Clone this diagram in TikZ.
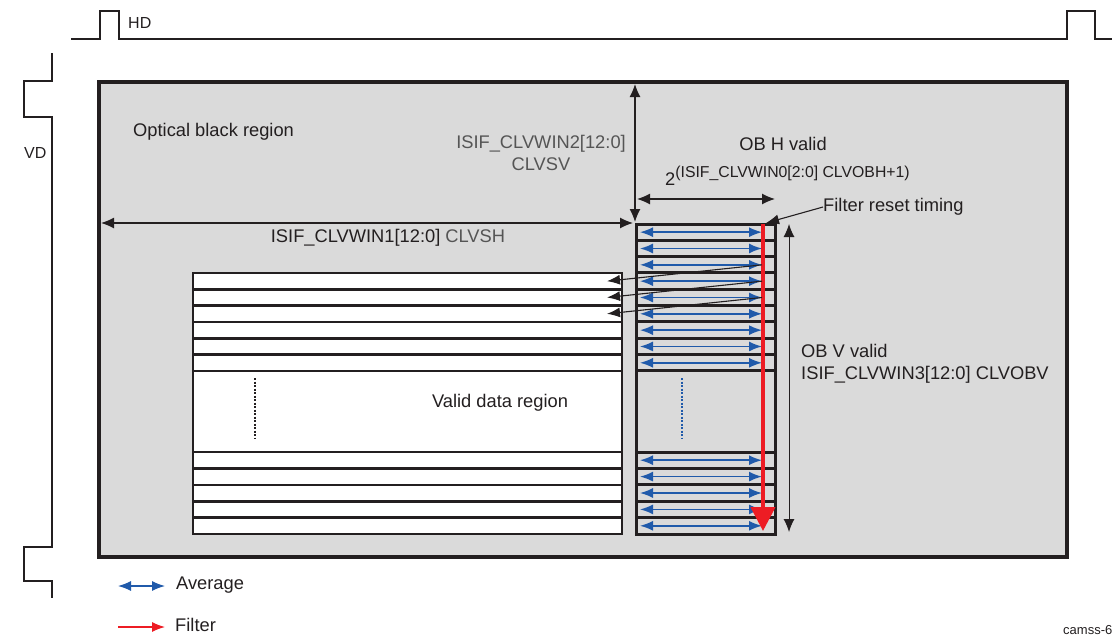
\documentclass[tikz,border=0pt]{standalone}
\usepackage{fontspec}
\setmainfont{Liberation Sans}
\usetikzlibrary{arrows.meta,positioning,calc}
\definecolor{obgray}{RGB}{218,218,218}
\definecolor{inkc}{RGB}{35,31,32}
\definecolor{avgblue}{RGB}{32,90,170}
\definecolor{filtred}{RGB}{237,28,36}
\definecolor{labgray}{RGB}{85,85,85}
\newcommand{\rowh}{16.33}
\newcommand{\rowtop}{224}

\begin{document}
\begin{tikzpicture}[x=1pt,y=-1pt,
    every node/.style={font=\fontsize{18.3}{22}\selectfont,inner sep=0pt,text=inkc},
    dimarrow/.style={inkc,line width=1.2pt,{Latex[length=13pt,width=11pt]}-{Latex[length=13pt,width=11pt]}},
    avgarrow/.style={avgblue,line width=1.5pt,{Latex[length=13pt,width=10pt]}-{Latex[length=13pt,width=10pt]}},
    hookarrow/.style={inkc,line width=1.1pt,-{Latex[length=13pt,width=10pt]}},
    rowline/.style={inkc,line width=3pt},
    validline/.style={inkc,line width=2.6pt}]
  \useasboundingbox (0,0) rectangle (1112,635);

  % sync pulses
  \draw[inkc,line width=2pt] (71,39)--(100,39)--(100,11)--(119,11)--(119,39)--(1067,39)
    --(1067,11)--(1095,11)--(1095,39)--(1112,39);
  \draw[inkc,line width=2pt] (52,53)--(52,81)--(24,81)--(24,117)--(52,117)--(52,547)
    --(24,547)--(24,581)--(52,581)--(52,598);
  \node[anchor=west,font=\fontsize{16}{19}\selectfont] (hd) at (128,23) {HD};
  \node[anchor=west,font=\fontsize{16}{19}\selectfont] (vd) at (24,153) {VD};

  % optical black region
  \coordinate (obtl) at (99,82);
  \coordinate (obbr) at (1067,557);
  \fill[obgray] (obtl) rectangle (obbr);
  \draw[inkc,line width=3.2pt] (obtl) rectangle (obbr);
  \node[anchor=west] (obtext) at (133,132) {Optical black region};

  % valid data region
  \coordinate (vtl) at (193,{\rowtop+3*\rowh});
  \coordinate (vbr) at (622,534);
  \fill[white] (vtl) rectangle (vbr);
  \foreach \k in {3,...,9}
    \draw[validline] (193,{\rowtop+\k*\rowh})--(622,{\rowtop+\k*\rowh});
  \foreach \k in {0,...,5}
    \draw[validline] (193,{452+\k*16.4})--(622,{452+\k*16.4});
  \draw[validline] (vtl) rectangle (vbr);
  \draw[inkc,line width=2.2pt,dash pattern=on 2pt off 1.5pt] (255,378)--(255,439);
  \node (validtext) at (500,403) {Valid data region};

  % OB column
  \coordinate (ctl) at (636,\rowtop);
  \coordinate (cbr) at (775,534);
  \foreach \k in {0,...,9}
    \draw[rowline] (636,{\rowtop+\k*\rowh})--(775,{\rowtop+\k*\rowh});
  \foreach \k in {0,...,5}
    \draw[rowline] (636,{452+\k*16.4})--(775,{452+\k*16.4});
  \draw[rowline] (ctl) rectangle (cbr);
  \foreach \k in {0,...,8}
    \draw[avgarrow] (640,{\rowtop+(\k+0.5)*\rowh})--(762,{\rowtop+(\k+0.5)*\rowh});
  \foreach \k in {0,...,4}
    \draw[avgarrow] (640,{452+(\k+0.5)*16.4})--(762,{452+(\k+0.5)*16.4});
  \draw[avgblue,line width=2.2pt,dash pattern=on 2pt off 1.5pt] (682,378)--(682,439);

  % filter
  \coordinate (ftop) at (763,\rowtop);
  \coordinate (fbot) at (763,531);
  \draw[filtred,line width=4.2pt,-{Triangle[length=24pt,width=24pt]}] (ftop)--(fbot);
  \foreach \k in {2,3,4}
    \draw[hookarrow] (762,{\rowtop+(\k+0.5)*\rowh})--(607,{\rowtop+(\k+1.5)*\rowh});

  % dimensions
  \draw[dimarrow] (101,223)--(633,223);
  \node (clvsh) at (388,238) {ISIF\_CLVWIN1[12:0] \textcolor{labgray}{CLVSH}};
  \draw[dimarrow] (635,84)--(635,222);
  \node[align=center,text=labgray] (clvsv) at (541,153) {ISIF\_CLVWIN2[12:0]\\CLVSV};
  \node (obh) at (783,144) {OB H valid};
  \node[anchor=base west] (obhexp) at (665,185)
    {2\raisebox{8pt}{\fontsize{15.8}{18}\selectfont(ISIF\_CLVWIN0[2:0] CLVOBH+1)}};
  \draw[dimarrow] (637,199)--(775,199);
  \node[anchor=west] (frt) at (823,207) {Filter reset timing};
  \draw[hookarrow] (frt.west)--(766,223);
  \draw[dimarrow,line width=1pt] (789,224)--(789,532);
  \node[anchor=west,align=left] (obv) at (801,364) {OB V valid\\ISIF\_CLVWIN3[12:0] CLVOBV};

  % legend
  \draw[avgblue,line width=1.2pt,{Latex[length=13pt,width=10pt]}-{Latex[length=13pt,width=10pt]}] (118,586)--(165,586);
  \node[anchor=west] (avg) at (176,585) {Average};
  \draw[filtred,line width=1.2pt,-{Latex[length=13pt,width=10pt]}] (118,627)--(165,627);
  \node[anchor=west] (filt) at (175,625) {Filter};
  \node[anchor=west,font=\fontsize{13}{15}\selectfont] (figid) at (1063,630) {camss-6};
\end{tikzpicture}
\end{document}
